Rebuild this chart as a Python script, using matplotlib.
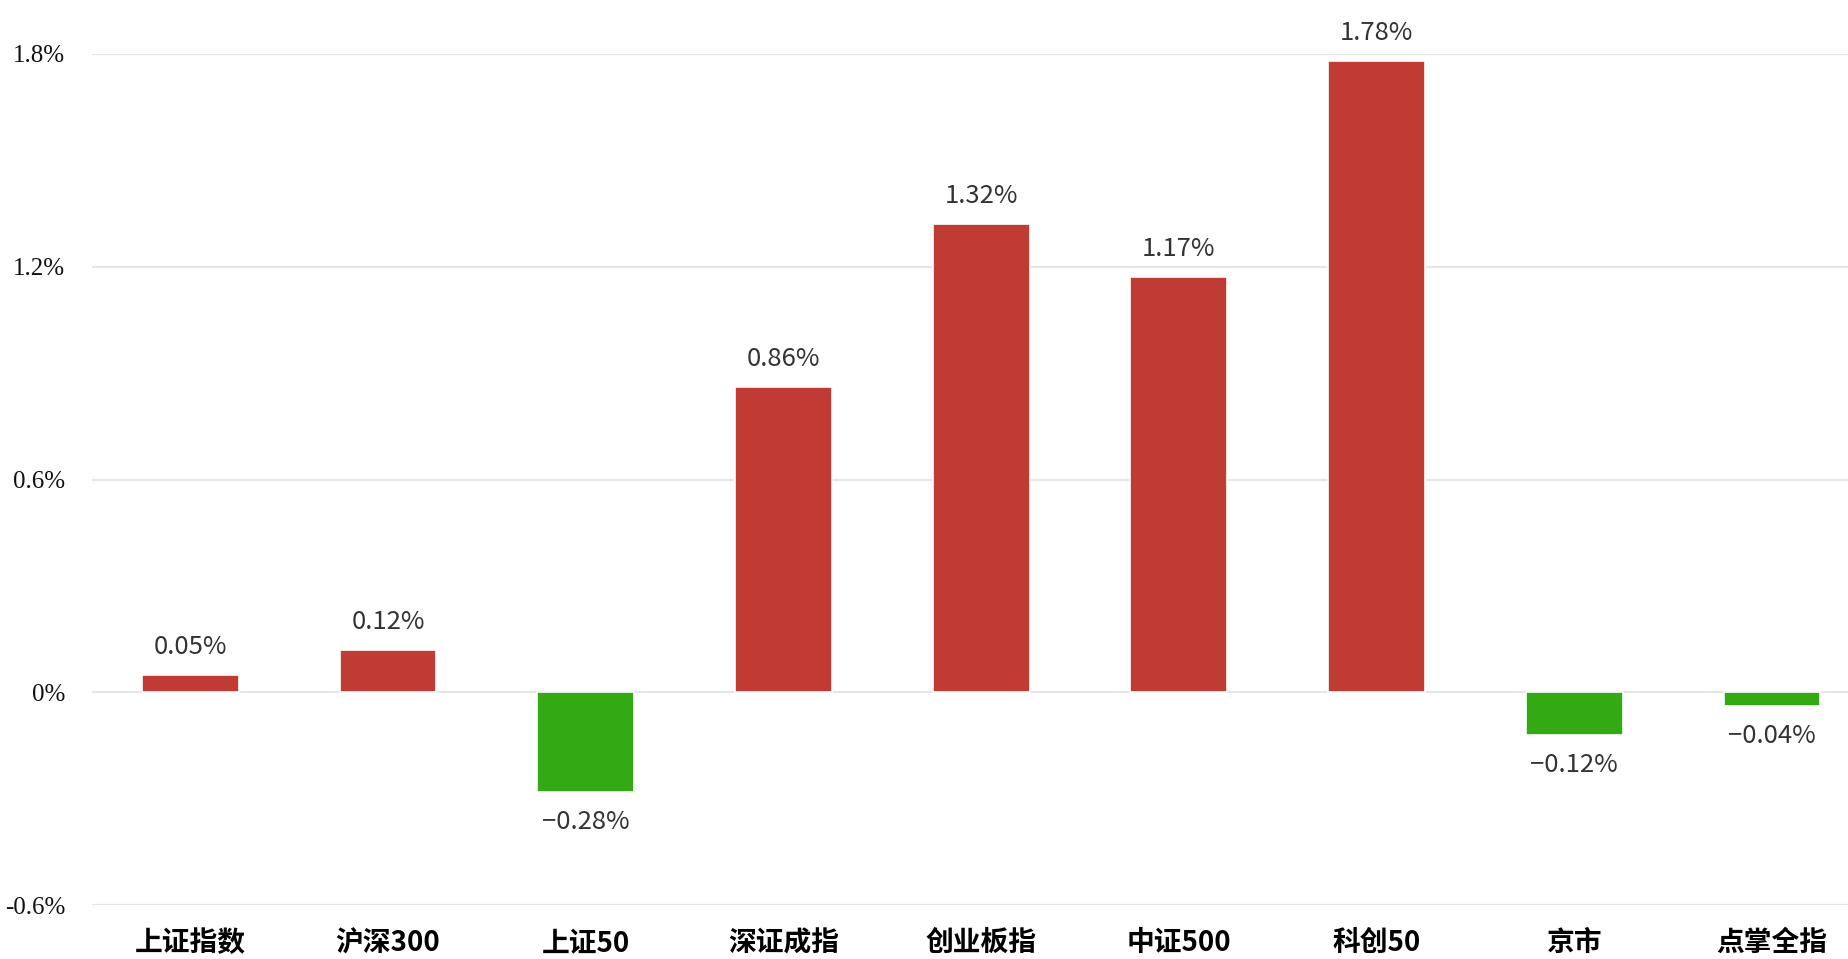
import matplotlib
matplotlib.use("Agg")
import matplotlib.pyplot as plt

categories = ["上证指数", "沪深300", "上证50", "深证成指", "创业板指", "中证500", "科创50", "京市", "点掌全指"]
values = [0.05, 0.12, -0.28, 0.86, 1.32, 1.17, 1.78, -0.12, -0.04]
ytick_vals = [-0.6, 0, 0.6, 1.2, 1.8]
ytick_labels = ["-0.6%", "0%", "0.6%", "1.2%", "1.8%"]

RED = "#C03B33"
GREEN = "#33AA14"

plt.rcParams['font.family'] = ['Noto Sans CJK SC', 'DejaVu Sans']

W, H = 1848, 959
fig = plt.figure(figsize=(W / 100, H / 100), dpi=100)
left_px, top_px, bottom_px = 91.5, 54, 905
band = 197.7
ax = fig.add_axes([left_px / W, (H - bottom_px) / H, band * 9 / W, (bottom_px - top_px) / H])

x = list(range(len(categories)))
colors = [RED if v >= 0 else GREEN for v in values]
bars = ax.bar(x, values, width=0.49, color=colors, edgecolor="white", linewidth=1.2, zorder=3)

ax.set_xlim(-0.5, len(categories) - 0.5)
ax.set_ylim(-0.6, 1.8)
ax.set_yticks(ytick_vals)
ax.set_yticklabels(ytick_labels, fontfamily="Liberation Serif", fontsize=18, color="#111111")
ax.grid(axis="y", color="#e6e6e6", linewidth=1.6, zorder=0)
ax.set_axisbelow(True)
for s in ax.spines.values():
    s.set_visible(False)
ax.tick_params(axis="y", length=0, pad=19)
ax.tick_params(axis="x", length=0, pad=17.5)
ax.set_xticks(x)
ax.set_xticklabels(categories, fontsize=20, fontweight="bold", color="#000000")

for xi, v in zip(x, values):
    txt = f"{v:.2f}%".replace("-", "\u2212")
    if v >= 0:
        ax.annotate(txt, (xi, v), xytext=(0, 28), textcoords="offset pixels",
                    ha="center", va="center", fontsize=18.5, fontweight="medium",
                    color="#333333", annotation_clip=False)
    else:
        ax.annotate(txt, (xi, v), xytext=(0, -30), textcoords="offset pixels",
                    ha="center", va="center", fontsize=18.5, fontweight="medium",
                    color="#333333", annotation_clip=False)

fig.savefig("out.png", dpi=100, facecolor="white")
